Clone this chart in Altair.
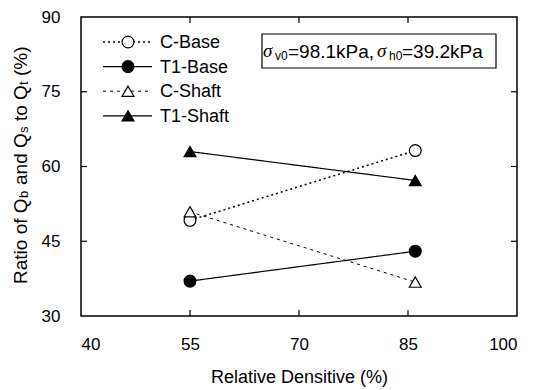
import altair as alt
import pandas as pd

# ---- data ----
density = [55, 86]
c_base = [49.2, 63.2]
t1_base = [37.0, 43.0]
c_shaft = [50.9, 36.8]
t1_shaft = [63.0, 57.2]
series_names = ["C-Base", "T1-Base", "C-Shaft", "T1-Shaft"]
x_ticks = [40, 55, 70, 85, 100]
y_ticks = [30, 45, 60, 75, 90]
inner_x_ticks = [55, 70, 85]
inner_y_ticks = [45, 60, 75]

values = {"C-Base": c_base, "T1-Base": t1_base, "C-Shaft": c_shaft, "T1-Shaft": t1_shaft}
rows = []
for name in series_names:
    for xv, yv in zip(density, values[name]):
        rows.append({"series": name, "x": xv, "y": yv})
df = pd.DataFrame(rows)

FONT = "Liberation Sans"
W, H = 436, 299

style = {
    "C-Base": dict(dash=[2, 3], sw=1.5, shape="circle", fill="white"),
    "T1-Base": dict(dash=[1, 0], sw=1.2, shape="circle", fill="black"),
    "C-Shaft": dict(dash=[3, 4], sw=1.0, shape="triangle-up", fill="white"),
    "T1-Shaft": dict(dash=[1, 0], sw=1.2, shape="triangle-up", fill="black"),
}

xscale = alt.Scale(domain=[40, 100], nice=False, zero=False)
yscale = alt.Scale(domain=[30, 90], nice=False, zero=False)

X = alt.X("x:Q", scale=xscale,
          axis=alt.Axis(values=x_ticks, tickSize=0, domain=False, grid=False,
                        labelFont=FONT, labelFontSize=17, labelColor="black",
                        labelPadding=20, title="Relative Densitive (%)",
                        titleFont=FONT, titleFontSize=18, titleFontWeight="normal",
                        titleColor="black", titlePadding=16))
Y = alt.Y("y:Q", scale=yscale,
          axis=alt.Axis(values=y_ticks, tickSize=0, domain=False, grid=False,
                        labelFont=FONT, labelFontSize=17, labelColor="black",
                        labelPadding=21, title=None))

base = alt.Chart(df)
layers = []
for name in series_names:
    s = style[name]
    layers.append(base.transform_filter(alt.datum.series == name).mark_line(
        color="black", strokeWidth=s["sw"], strokeDash=s["dash"]).encode(x=X, y=Y))
for name in series_names:
    s = style[name]
    layers.append(base.transform_filter(alt.datum.series == name).mark_point(
        shape=s["shape"], size=140, filled=True, fill=s["fill"], stroke="black",
        strokeWidth=1.2, opacity=1).encode(x=X, y=Y))

# inward ticks on all four sides (same fields/encodings as the data so axes merge)
tx = alt.Chart(pd.DataFrame({"x": inner_x_ticks}))
ty = alt.Chart(pd.DataFrame({"y": inner_y_ticks}))
layers.append(tx.mark_rule(color="black", strokeWidth=1.2).encode(x=X, y=alt.value(H), y2=alt.value(H - 6)))
layers.append(tx.mark_rule(color="black", strokeWidth=1.2).encode(x=X, y=alt.value(0), y2=alt.value(6)))
layers.append(ty.mark_rule(color="black", strokeWidth=1.2).encode(y=Y, x=alt.value(0), x2=alt.value(6)))
layers.append(ty.mark_rule(color="black", strokeWidth=1.2).encode(y=Y, x=alt.value(W), x2=alt.value(W - 6)))

one = alt.Data(values=[{}])

# legend
for i, name in enumerate(series_names):
    s = style[name]
    yy = 25 + 24.6 * i
    layers.append(alt.Chart(one).mark_rule(color="black", strokeWidth=s["sw"], strokeDash=s["dash"]).encode(
        x=alt.value(22), x2=alt.value(71), y=alt.value(yy)))
    layers.append(alt.Chart(one).mark_point(shape=s["shape"], size=140, filled=True, fill=s["fill"],
                                            stroke="black", strokeWidth=1.2, opacity=1).encode(
        x=alt.value(47), y=alt.value(yy)))
    layers.append(alt.Chart(one).mark_text(font=FONT, fontSize=18, align="left", baseline="middle",
                                           color="black").encode(
        x=alt.value(79), y=alt.value(yy + 1), text=alt.value(name)))

# annotation box
layers.append(alt.Chart(one).mark_rect(fill="white", stroke="black", strokeWidth=1.2).encode(
    x=alt.value(181), x2=alt.value(415), y=alt.value(17), y2=alt.value(51)))
ann = [
    ("σ", 182, 19, 34, "Liberation Serif", "italic"),
    ("v0", 194, 12, 39, FONT, "normal"),
    ("=98.1kPa,", 207, 19, 35, FONT, "normal"),
    ("σ", 296, 19, 34, "Liberation Serif", "italic"),
    ("h0", 308, 12, 39, FONT, "normal"),
    ("=39.2kPa", 321, 19, 35, FONT, "normal"),
]
for txt, xx, fs, yy, fnt, fst in ann:
    layers.append(alt.Chart(one).mark_text(font=fnt, fontSize=fs, fontStyle=fst, align="left",
                                           baseline="middle", color="black").encode(
        x=alt.value(xx), y=alt.value(yy), text=alt.value(txt)))

# y-axis title with subscripts (rotated pieces)
ytitle = [
    ("Ratio of Q", 267, 19, -60),
    ("b", 181, 13, -57),
    ("and Q", 168, 19, -60),
    ("s", 116, 13, -57),
    ("to Q", 104, 19, -60),
    ("t", 68, 13, -57),
    ("(%)", 59, 19, -60),
]
for txt, yy, fs, xx in ytitle:
    layers.append(alt.Chart(one).mark_text(font=FONT, fontSize=fs, angle=270, align="left",
                                           baseline="middle", color="black").encode(
        x=alt.value(xx), y=alt.value(yy), text=alt.value(txt)))

chart = alt.layer(*layers).properties(
    width=W, height=H,
    autosize=alt.AutoSizeParams(type="none"),
    padding={"left": 81, "top": 17, "right": 16, "bottom": 74},
    background="white",
).configure_view(stroke="black", strokeWidth=1.5)

chart.save("out.html", embed_options={"renderer": "svg", "actions": False})
